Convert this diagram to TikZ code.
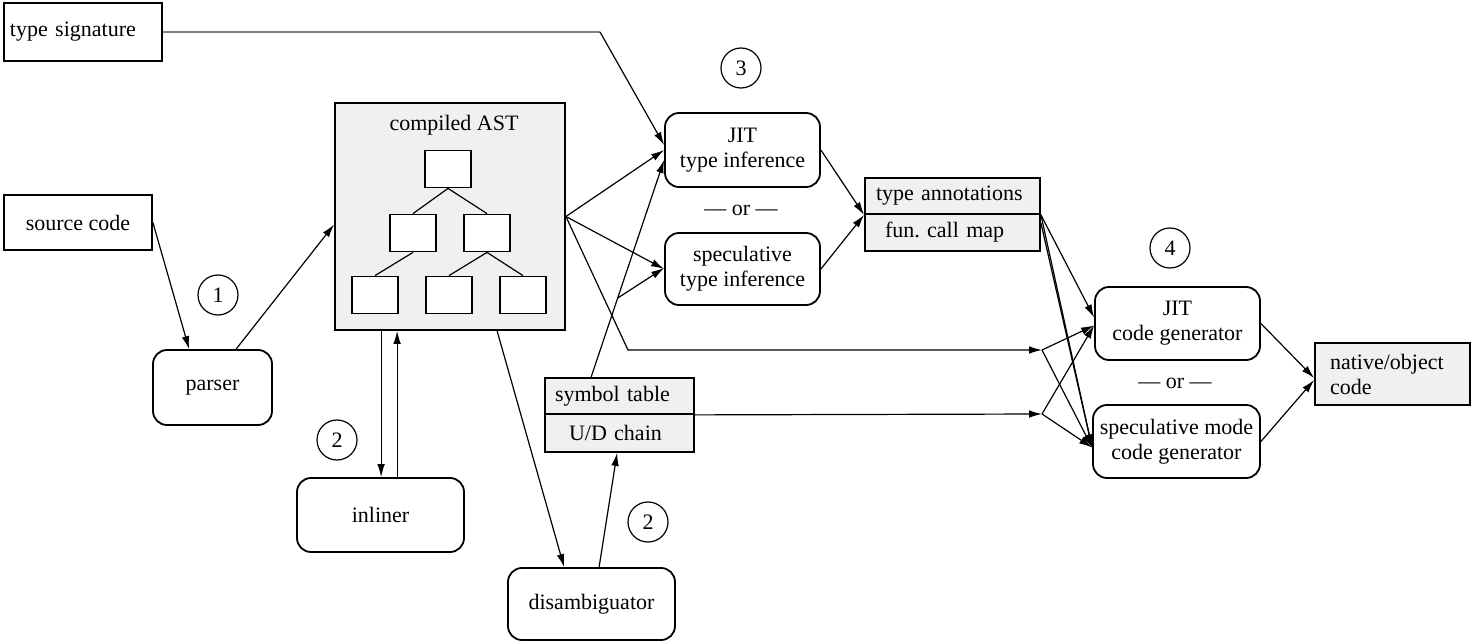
\documentclass[tikz,border=0pt]{standalone}
\usepackage{fontspec}
\setmainfont{Liberation Serif}
\usetikzlibrary{arrows.meta,calc}
\begin{document}
\begin{tikzpicture}[x=0.5pt,y=-0.5pt,
  font=\fontsize{11}{12.5}\selectfont,
  sqbox/.style={draw,line width=0.9pt,inner sep=0pt},
  rbox/.style={draw,line width=0.9pt,rounded corners=7pt,align=center,inner sep=0pt},
  gfill/.style={fill=black!6},
  leaf/.style={draw,line width=0.9pt,fill=white,minimum width=23pt,minimum height=18.5pt,inner sep=0pt},
  num/.style={circle,draw,line width=0.6pt,minimum size=20pt,inner sep=0pt},
  arr/.style={line width=0.6pt,-{Latex[length=6.5pt,width=3.8pt]}},
  ln/.style={line width=0.6pt},
]
\useasboundingbox (0,0) rectangle (1474,642);

% nodes
\node[sqbox,minimum width=79pt,minimum height=29pt,text width=73pt,align=left] (tsig) at (83,32) {type signature};
\node[sqbox,minimum width=74pt,minimum height=27.5pt] (src) at (78,222.5) {source code};
\node[num] (c1) at (218,295) {1};
\node[rbox,minimum width=59.5pt,minimum height=37.5pt] (parser) at (212.5,387.5) {parser};

\node[sqbox,gfill,minimum width=115pt,minimum height=113.5pt] (ast) at (450,216.5) {};
\node (asttitle) at (454,125) {compiled AST};
\node[leaf] (t1) at (448,169) {};
\node[leaf] (t2) at (413,233) {};
\node[leaf] (t3) at (487,233) {};
\node[leaf] (t4) at (375,295) {};
\node[leaf] (t5) at (449,295) {};
\node[leaf] (t6) at (523,295) {};
\draw[ln] (t1.south) -- (t2.north);
\draw[ln] (t1.south) -- (t3.north);
\draw[ln] (t2.south) -- (t4.north);
\draw[ln] (t3.south) -- (t5.north);
\draw[ln] (t3.south) -- (t6.north);

\node[num] (c2a) at (337,440) {2};
\node[rbox,minimum width=83.5pt,minimum height=37pt] (inliner) at (380.5,515) {inliner};
\node[rbox,minimum width=83.5pt,minimum height=36pt] (disamb) at (591.5,604) {disambiguator};
\node[num] (c2b) at (648,522) {2};
\node[sqbox,gfill,minimum width=74.5pt,minimum height=18pt,text width=64.5pt,align=left] (st1) at (619.5,396) {symbol table};
\node[sqbox,gfill,minimum width=74.5pt,minimum height=19pt,text width=64.5pt,align=left] (st2) at (619.5,433) {\hspace*{7pt}U/D chain};

\node[num] (c3) at (741,68) {3};
\node[rbox,minimum width=77.5pt,minimum height=37pt] (jit) at (742.5,150) {JIT\\type inference};
\node (or1) at (741,210) {— or —};
\node[rbox,minimum width=77.5pt,minimum height=36pt] (spec) at (742.5,269) {speculative\\type inference};
\node[sqbox,gfill,minimum width=87.5pt,minimum height=18pt,text width=76.5pt,align=left] (ta1) at (952.5,196) {type annotations};
\node[sqbox,gfill,minimum width=87.5pt,minimum height=18.5pt,text width=76.5pt,align=left] (ta2) at (952.5,232.25) {\hspace*{4.5pt}fun.\ call map};

\node[num] (c4) at (1170,248) {4};
\node[rbox,minimum width=82.5pt,minimum height=36.5pt] (jcg) at (1177.5,323.5) {JIT\\code generator};
\node (or2) at (1175,383) {— or —};
\node[rbox,minimum width=83.5pt,minimum height=36.5pt] (smcg) at (1176.5,441.5) {speculative mode\\code generator};
\node[sqbox,gfill,minimum width=77.5pt,minimum height=31pt,text width=62.5pt,align=left] (noc) at (1392.5,374) {native/object\\code};

% coordinates
\coordinate (tsbend) at (600,32);
\coordinate (astbend) at (628,350);
\coordinate (fork1) at (1042,350);
\coordinate (fork2) at (1042,414);
\coordinate (stbr) at ($([xshift=23.5pt]st1.north west)!0.364!([yshift=-5pt]jit.west)$);

% connectors
\draw[ln,black!50,line width=1pt] (tsig.east) -- (tsbend);
\draw[arr] (tsbend) -- ([yshift=2.5pt]jit.west);
\draw[arr] (src.east) -- ([xshift=18.5pt]parser.north west);
\draw[arr] ([xshift=42pt]parser.north west) -- ([yshift=-4pt]ast.west);
\draw[arr] ([xshift=23.5pt]ast.south west) -- ([xshift=23.5pt]ast.south west |- inliner.north);
\draw[arr] ([xshift=31.5pt]ast.south west |- inliner.north) -- ([xshift=31.5pt]ast.south west);
\draw[arr] ([xshift=81.5pt]ast.south west) -- ([xshift=28.5pt]disamb.north west);
\draw[arr] ([xshift=46pt]disamb.north west) -- ([xshift=36.5pt]st2.south west);
\draw[arr] (ast.east) -- (jit.west);
\draw[arr] (ast.east) -- (spec.west);
\draw[arr] (ast.east) -- (astbend) -- (fork1);
\draw[arr] (fork1) -- ([yshift=-1pt]jcg.west);
\draw[arr] (fork1) -- ([yshift=-3pt]smcg.west);
\draw[arr] (st1.south east) -- (fork2);
\draw[arr] (fork2) -- ([yshift=-1pt]jcg.west);
\draw[arr] (fork2) -- ([yshift=-3pt]smcg.west);
\draw[arr] ([xshift=23.5pt]st1.north west) -- ([yshift=-5pt]jit.west);
\draw[arr] (stbr) -- ([yshift=0.5pt]spec.west);
\draw[arr] (jit.east) -- (ta1.south west);
\draw[arr] (spec.east) -- (ta1.south west);
\draw[arr] (ta1.south east) -- ([yshift=3pt]jcg.west);
\draw[arr] (ta1.south east) -- ([yshift=-3pt]smcg.west);
\draw[arr] ([yshift=-4pt]ta1.south east) -- ([yshift=-3pt]smcg.west);
\draw[arr] (jcg.east) -- ([yshift=-2pt]noc.west);
\draw[arr] (smcg.east) -- ([yshift=-3pt]noc.west);
\end{tikzpicture}
\end{document}
